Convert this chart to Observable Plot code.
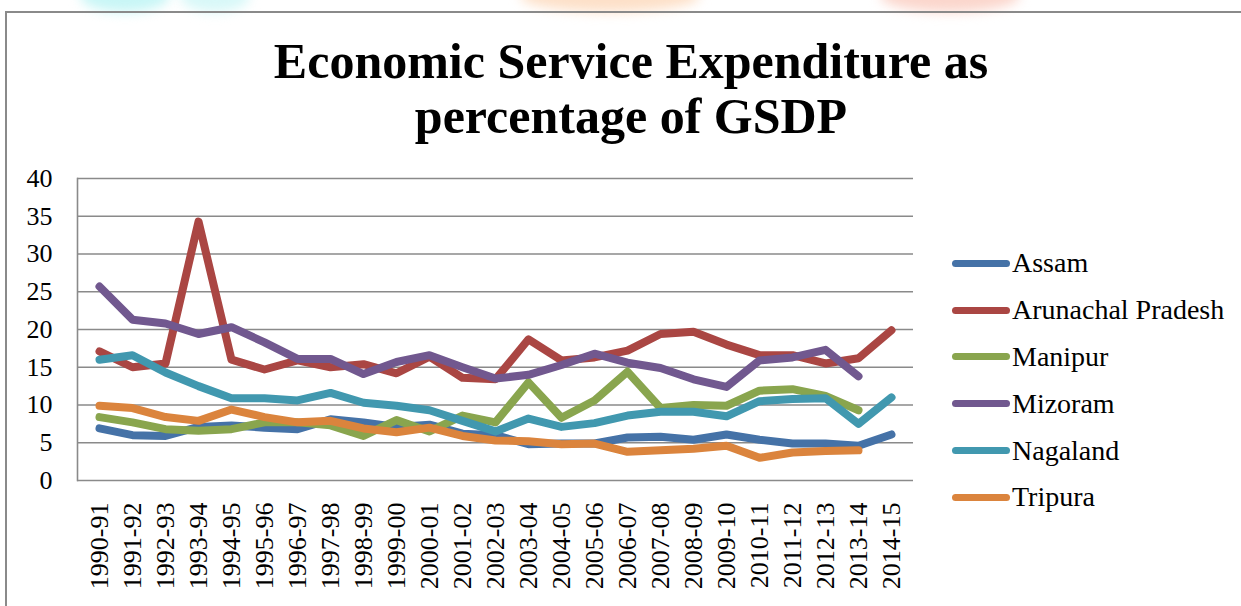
<!DOCTYPE html>
<html>
<head>
<meta charset="utf-8">
<script src="https://cdn.jsdelivr.net/npm/d3@7"></script>
<script src="https://cdn.jsdelivr.net/npm/@observablehq/plot@0.6"></script>
<style>
  html, body { margin: 0; padding: 0; background: #fff; }
  #wrap { position: relative; width: 1241px; height: 606px; overflow: hidden; background: #fff; }
  .blob { position: absolute; top: -20px; height: 32px; border-radius: 50%; filter: blur(6px); }
  #border { position: absolute; left: 5px; top: 11px; right: -10px; bottom: -10px;
            border-left: 2px solid #8a8a8a; border-top: 2px solid #8a8a8a; }
  #title { position: absolute; left: 131px; width: 1000px; top: 34px; text-align: center;
           font-family: "Liberation Serif", serif; font-weight: bold; font-size: 50px; line-height: 55px; color: #000; }
  #chart { position: absolute; left: 0; top: 0; }
  #chart svg, #chart svg text { font-family: "Liberation Serif", serif !important; }
  #legend { position: absolute; left: 952px; top: 240px; font-family: "Liberation Serif", serif; font-size: 28px; color: #000; }
  .row { display: flex; align-items: center; height: 46.8px; }
  .sw { width: 58px; height: 7px; border-radius: 4px; margin-right: 2px; }
</style>
</head>
<body>
<div id="wrap">
  <div class="blob" style="left:80px;width:90px;background:#c8f6f6"></div>
  <div class="blob" style="left:180px;width:70px;background:#d8f8f8"></div>
  <div class="blob" style="left:520px;width:180px;background:#fde0c8"></div>
  <div class="blob" style="left:880px;width:140px;background:#fbd6cc"></div>
  <div id="border"></div>
  <div id="title">Economic Service Expenditure as<br>percentage of GSDP</div>
  <div id="chart"></div>
  <div id="legend"></div>
</div>
<script>
const years = ["1990-91","1991-92","1992-93","1993-94","1994-95","1995-96","1996-97","1997-98","1998-99","1999-00",
  "2000-01","2001-02","2002-03","2003-04","2004-05","2005-06","2006-07","2007-08","2008-09","2009-10",
  "2010-11","2011-12","2012-13","2013-14","2014-15"];
const states = ["Assam","Arunachal Pradesh","Manipur","Mizoram","Nagaland","Tripura"];
const colors = ["#4572A7","#AA4643","#89A54E","#71588F","#4198AF","#DB843D"];
const yTicks = [0,5,10,15,20,25,30,35,40];

const assam     = [6.9,6.0,5.9,7.1,7.3,7.0,6.8,8.1,7.7,7.1,7.4,6.2,6.0,4.8,4.9,4.9,5.7,5.8,5.4,6.1,5.4,4.9,4.9,4.6,6.1];
const arunachal = [17.1,15.0,15.5,34.3,16.0,14.7,15.9,15.0,15.4,14.2,16.4,13.6,13.4,18.7,15.9,16.3,17.2,19.4,19.7,18.0,16.6,16.6,15.5,16.2,19.9];
const manipur   = [8.4,7.7,6.8,6.6,6.8,7.7,7.7,7.3,5.9,8.0,6.5,8.6,7.7,13.0,8.3,10.6,14.4,9.6,10.0,9.9,11.9,12.1,11.2,9.3,null];
const mizoram   = [25.7,21.3,20.8,19.4,20.3,18.3,16.1,16.1,14.1,15.7,16.6,15.0,13.5,14.0,15.3,16.8,15.6,14.9,13.4,12.4,15.9,16.3,17.3,13.8,null];
const nagaland  = [16.0,16.6,14.3,12.5,10.9,10.9,10.6,11.6,10.3,9.9,9.3,7.9,6.5,8.2,7.1,7.6,8.6,9.1,9.1,8.5,10.5,10.8,10.9,7.5,11.0];
const tripura   = [9.9,9.6,8.4,7.9,9.4,8.4,7.7,7.9,6.9,6.4,7.0,5.9,5.3,5.2,4.8,4.9,3.8,4.0,4.2,4.6,3.0,3.7,3.9,4.0,null];

const series = [assam, arunachal, manipur, mizoram, nagaland, tripura];
const data = [];
states.forEach((s, i) => series[i].forEach((v, j) => { if (v != null) data.push({state: s, year: years[j], value: v}); }));

const chart = Plot.plot({
  width: 1241,
  height: 606,
  marginLeft: 77,
  marginRight: 328,
  marginTop: 178,
  marginBottom: 126,
  style: {fontFamily: "'Liberation Serif', serif", fontSize: "26px", color: "#000", background: "transparent", overflow: "visible"},
  x: {type: "point", domain: years, padding: 0.5},
  y: {domain: [0, 40]},
  color: {domain: states, range: colors},
  marks: [
    Plot.ruleY(yTicks, {stroke: "#8a8a8a", strokeWidth: 1.6}),
    Plot.axisX({tickSize: 0, tickPadding: 22, tickRotate: -90, fontSize: 26, fontFamily: "Liberation Serif", label: null}),
    Plot.axisY({ticks: yTicks, tickSize: 0, tickPadding: 25, fontSize: 26, fontFamily: "Liberation Serif", label: null}),
    Plot.frame({anchor: "left", stroke: "#8a8a8a", strokeWidth: 1.6}),
    Plot.line(data, {x: "year", y: "value", z: "state", stroke: "state", strokeWidth: 8,
      strokeLinejoin: "round", strokeLinecap: "round"})
  ]
});
document.getElementById("chart").appendChild(chart);

const legend = document.getElementById("legend");
states.forEach((s, i) => {
  const row = document.createElement("div");
  row.className = "row";
  const sw = document.createElement("div");
  sw.className = "sw";
  sw.style.background = colors[i];
  const t = document.createElement("span");
  t.textContent = s;
  row.appendChild(sw);
  row.appendChild(t);
  legend.appendChild(row);
});
</script>
</body>
</html>
